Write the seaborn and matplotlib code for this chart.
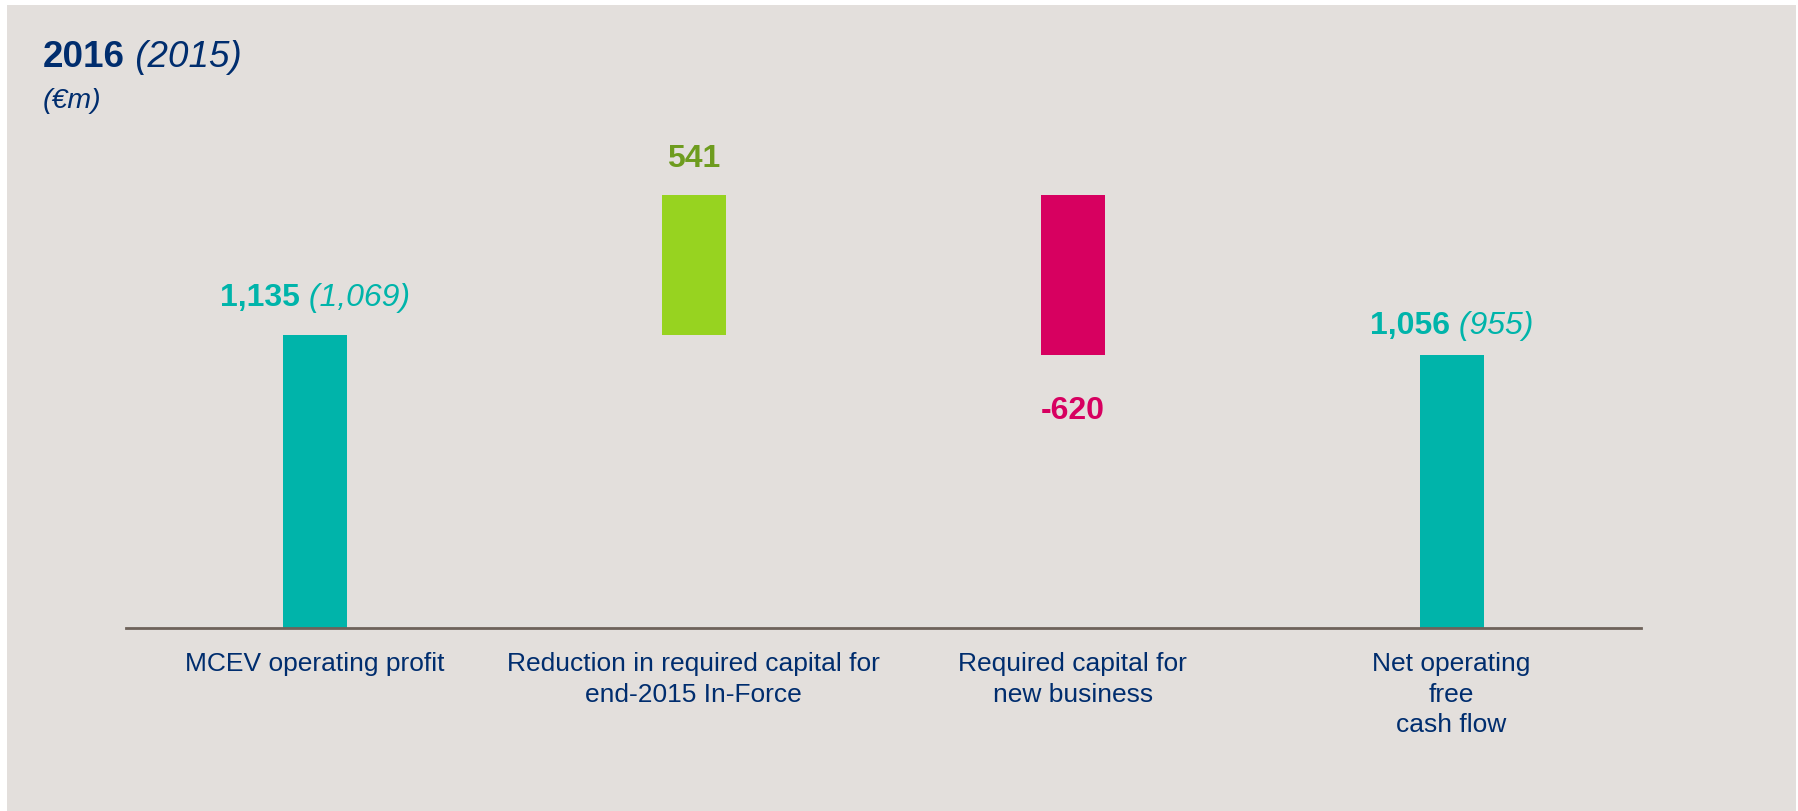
import matplotlib
matplotlib.use("Agg")
import matplotlib.pyplot as plt
import seaborn as sns
import pandas as pd
import numpy as np
from matplotlib.patches import Rectangle

# ---- data ----
categories = ["MCEV operating profit",
              "Reduction in required capital for\nend-2015 In-Force",
              "Required capital for\nnew business",
              "Net operating\nfree\ncash flow"]
values_2016 = [1135, 541, -620, 1056]
values_2015 = [1069, None, None, 955]
is_total = [True, False, False, True]

# ---- styling ----
BG = "#E3DFDC"
NAVY = "#002D6E"
TEAL = "#00B4AA"
GREEN = "#97D320"
GREEN_TXT = "#6E9C1E"
RED = "#D70060"
AXIS = "#6E625A"
label_offsets_px = [37, 36, -56, 29]

sns.set_theme(style="white")
plt.rcParams["font.family"] = ["Liberation Sans", "DejaVu Sans"]

# waterfall bases
bottoms = []
running = 0
for v, tot in zip(values_2016, is_total):
    if tot:
        bottoms.append(0)
        running = v
    else:
        bottoms.append(running)
        running += v

bar_colors = []
label_colors = []
for v, tot in zip(values_2016, is_total):
    if tot:
        bar_colors.append(TEAL); label_colors.append(TEAL)
    elif v >= 0:
        bar_colors.append(GREEN); label_colors.append(GREEN_TXT)
    else:
        bar_colors.append(RED); label_colors.append(RED)

df = pd.DataFrame({"category": categories, "value": values_2016})

fig = plt.figure(figsize=(17.98, 8.11), dpi=100, facecolor="white")
fig.patches.append(Rectangle((7 / 1798, 0), (1796 - 7) / 1798, (811 - 5) / 811,
                             transform=fig.transFigure, facecolor=BG,
                             edgecolor="none", zorder=-10))

ax = fig.add_axes([125.5 / 1798, (811 - 627.5) / 811, (1641 - 125.5) / 1798, 0.636])
ax.set_facecolor("none")

sns.barplot(data=df, x="category", y="value", order=categories, color=TEAL,
            width=0.169, bottom=bottoms, ax=ax, saturation=1, errorbar=None)
for patch, c in zip(ax.patches, bar_colors):
    patch.set_facecolor(c)
    patch.set_edgecolor("none")

ax.set_xlim(-0.5, 3.5)
ax.set_ylim(0, 2000)
ax.set_xlabel("")
ax.set_ylabel("")
ax.set_yticks([])
for s in ["top", "right", "left"]:
    ax.spines[s].set_visible(False)
ax.spines["bottom"].set_color(AXIS)
ax.spines["bottom"].set_linewidth(2)
ax.tick_params(axis="x", length=0, pad=17.5, labelsize=19, labelcolor=NAVY)
ax.set_xticks(range(len(categories)))
ax.set_xticklabels(categories, linespacing=1.36)

# ---- value labels ----
fig.canvas.draw()
renderer = fig.canvas.get_renderer()
for i, (v, prev, b, lc, dy) in enumerate(zip(values_2016, values_2015, bottoms,
                                             label_colors, label_offsets_px)):
    y = b + v
    main = f"{v:,}"
    if prev is not None:
        t1 = ax.annotate(main, (i, y), xytext=(0, dy), textcoords="offset pixels",
                         ha="left", va="center", fontsize=23, fontweight="bold", color=lc)
        t2 = ax.annotate(f" ({prev:,})", (i, y), xytext=(0, dy), textcoords="offset pixels",
                         ha="left", va="center", fontsize=23, fontstyle="italic", color=lc)
        w1 = t1.get_window_extent(renderer).width
        w2 = t2.get_window_extent(renderer).width
        start = -(w1 + w2) / 2
        t1.set_position((start, dy))
        t2.set_position((start + w1, dy))
    else:
        ax.annotate(main, (i, y), xytext=(0, dy), textcoords="offset pixels",
                    ha="center", va="center", fontsize=23, fontweight="bold", color=lc)

# ---- title ----
t = fig.text(43 / 1798, 1 - 67 / 811, "2016", fontsize=26.5, fontweight="bold",
             color=NAVY, ha="left", va="baseline")
fig.canvas.draw()
w = t.get_window_extent(renderer).width
fig.text((43 + w) / 1798, 1 - 67 / 811, " (2015)", fontsize=26.5, fontstyle="italic",
         color=NAVY, ha="left", va="baseline")
fig.text(43 / 1798, 1 - 101 / 811, "(€m)", fontsize=20.5, fontstyle="italic",
         color=NAVY, ha="left", va="center")

fig.savefig("out.png", dpi=100, facecolor=fig.get_facecolor())
